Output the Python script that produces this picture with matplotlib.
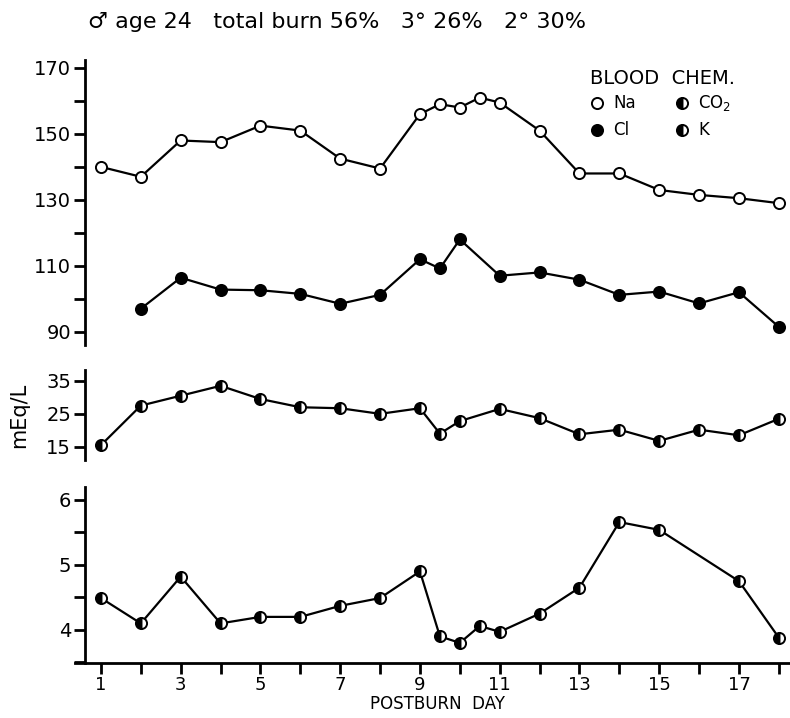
import matplotlib.pyplot as plt
from matplotlib.ticker import MultipleLocator
from matplotlib.lines import Line2D

# 값은 그림에서 읽은 값
na_days = [1, 2, 3, 4, 5, 6, 7, 8, 9, 9.5, 10, 10.5, 11, 12, 13, 14, 15, 16, 17, 18]
na_vals = [140, 137, 148, 147.5, 152.5, 151, 142.5, 139.5, 156, 159, 158, 161, 159.5, 151, 138, 138, 133, 131.5, 130.5, 129]

cl_days = [2, 3, 4, 5, 6, 7, 8, 9, 9.5, 10, 11, 12, 13, 14, 15, 16, 17, 18]
cl_vals = [97, 106.4, 102.8, 102.6, 101.5, 98.5, 101.2, 112, 109.2, 118, 107, 108, 105.8, 101.2, 102.2, 98.6, 102, 91.5]

co2_days = [1, 2, 3, 4, 5, 6, 7, 8, 9, 9.5, 10, 11, 12, 13, 14, 15, 16, 17, 18]
co2_vals = [15.5, 27.5, 30.5, 33.5, 29.5, 27, 26.7, 25, 26.7, 19, 22.8, 26.5, 23.7, 18.8, 20.2, 16.8, 20.2, 18.5, 23.5]

k_days = [1, 2, 3, 4, 5, 6, 7, 8, 9, 9.5, 10, 10.5, 11, 12, 13, 14, 15, 17, 18]
k_vals = [4.49, 4.1, 4.82, 4.1, 4.2, 4.2, 4.37, 4.49, 4.9, 3.9, 3.8, 4.06, 3.97, 4.25, 4.65, 5.66, 5.54, 4.75, 3.88]

W, H = 790, 718
fig = plt.figure(figsize=(W / 100, H / 100), dpi=100)
plt.rcParams['font.family'] = ['DejaVu Sans']

xl = (0.6, 18.28)
left = 85 / W
width = 1 - left


def make_ax(top_px, bot_px, ylim):
    ax = fig.add_axes([left, 1 - bot_px / H, width, (bot_px - top_px) / H])
    ax.set_xlim(*xl)
    ax.set_ylim(*ylim)
    for s in ['top', 'right', 'bottom']:
        ax.spines[s].set_visible(False)
    ax.spines['left'].set_linewidth(2)
    ax.tick_params(axis='y', which='both', direction='out', length=8, width=2, labelsize=14, pad=2)
    ax.set_xticks([])
    ax.patch.set_alpha(0)
    return ax


mk = dict(color='black', lw=1.6, markersize=8, markeredgewidth=1.4, markeredgecolor='black', clip_on=False)

# 위쪽: Na, Cl
ax1 = make_ax(60, 345, (86, 172.4))
ax1.set_yticks([90, 110, 130, 150, 170])
ax1.yaxis.set_minor_locator(MultipleLocator(10))
ax1.plot(na_days, na_vals, marker='o', markerfacecolor='white', **mk)
ax1.plot(cl_days, cl_vals, marker='o', markerfacecolor='black', **mk)

# 가운데: CO2
ax2 = make_ax(370, 460, (11, 38.3))
ax2.set_yticks([15, 25, 35])
ax2.plot(co2_days, co2_vals, marker='o', fillstyle='left', markerfacecolor='black',
         markerfacecoloralt='white', **mk)
ax2.set_ylabel('mEq/L', fontsize=15, labelpad=12)

# 아래: K
ax3 = make_ax(487, 663, (3.49, 6.2))
ax3.set_yticks([4, 5, 6])
ax3.yaxis.set_minor_locator(MultipleLocator(0.5))
ax3.plot(k_days, k_vals, marker='o', fillstyle='left', markerfacecolor='black',
         markerfacecoloralt='white', **mk)
ax3.spines['bottom'].set_visible(True)
ax3.spines['bottom'].set_linewidth(2)
ax3.spines['bottom'].set_bounds(0.35, 18.28)
ax3.set_xticks(range(1, 19, 2))
ax3.set_xticks(range(2, 19, 2), minor=True)
ax3.tick_params(axis='x', which='both', direction='out', length=8, width=2, labelsize=13, pad=1)
ax3.set_xlabel('POSTBURN  DAY', fontsize=12, labelpad=1)

fig.text(88 / W, 1 - 22 / H, '♂ age 24   total burn 56%   3° 26%   2° 30%',
         fontsize=16, va='center', ha='left')

# 범례
fig.text(590 / W, 1 - 78 / H, 'BLOOD  CHEM.', fontsize=14, va='center', ha='left')
leg = [(597, 103, dict(markerfacecolor='white'), 'Na'),
       (682, 103, dict(fillstyle='left', markerfacecolor='black', markerfacecoloralt='white'), 'CO$_2$'),
       (597, 130, dict(markerfacecolor='black'), 'Cl'),
       (682, 130, dict(fillstyle='left', markerfacecolor='black', markerfacecoloralt='white'), 'K')]
for px, py, style, lab in leg:
    fig.add_artist(Line2D([px / W], [1 - py / H], marker='o', markersize=8, markeredgewidth=1.4,
                          markeredgecolor='black', linestyle='none', **style))
    fig.text((px + 16) / W, 1 - py / H, lab, fontsize=12, va='center', ha='left')

fig.savefig('out.png', dpi=100)
